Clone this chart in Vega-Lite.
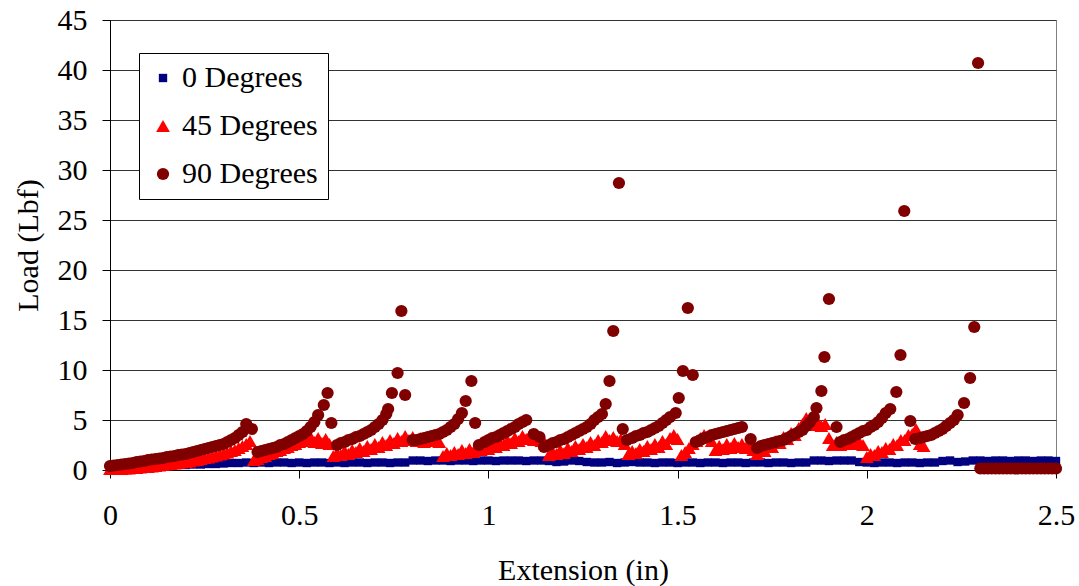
{
"$schema": "https://vega.github.io/schema/vega-lite/v6.json",
"width": 946, "height": 450,
"autosize": {"type": "none"},
"padding": {"left": 110, "top": 20, "right": 23, "bottom": 116},
"background": "white",
"view": {"stroke": "#808080", "strokeWidth": 1},
"data": {"values": [
{"s":"0","x":0,"y":0.3},{"s":"0","x":0.02,"y":0.3},{"s":"0","x":0.04,"y":0.3},{"s":"0","x":0.06,"y":0.35},{"s":"0","x":0.08,"y":0.35},{"s":"0","x":0.1,"y":0.4},{"s":"0","x":0.12,"y":0.4},{"s":"0","x":0.14,"y":0.45},{"s":"0","x":0.16,"y":0.45},{"s":"0","x":0.18,"y":0.5},{"s":"0","x":0.2,"y":0.5},{"s":"0","x":0.22,"y":0.55},{"s":"0","x":0.24,"y":0.55},{"s":"0","x":0.26,"y":0.6},{"s":"0","x":0.28,"y":0.6},{"s":"0","x":0.3,"y":0.65},{"s":"0","x":0.32,"y":0.7},{"s":"0","x":0.34,"y":0.7},{"s":"0","x":0.36,"y":0.75},{"s":"0","x":0.38,"y":0.7},{"s":"0","x":0.4,"y":0.75},{"s":"0","x":0.42,"y":0.7},{"s":"0","x":0.44,"y":0.75},{"s":"0","x":0.46,"y":0.75},{"s":"0","x":0.48,"y":0.7},{"s":"0","x":0.5,"y":0.75},{"s":"0","x":0.52,"y":0.7},{"s":"0","x":0.54,"y":0.75},{"s":"0","x":0.56,"y":0.75},{"s":"0","x":0.58,"y":0.7},{"s":"0","x":0.6,"y":0.75},{"s":"0","x":0.62,"y":0.7},{"s":"0","x":0.64,"y":0.75},{"s":"0","x":0.66,"y":0.75},{"s":"0","x":0.68,"y":0.7},{"s":"0","x":0.7,"y":0.75},{"s":"0","x":0.72,"y":0.75},{"s":"0","x":0.74,"y":0.7},{"s":"0","x":0.76,"y":0.75},{"s":"0","x":0.78,"y":0.75},{"s":"0","x":0.8,"y":0.95},{"s":"0","x":0.82,"y":0.95},{"s":"0","x":0.84,"y":0.9},{"s":"0","x":0.86,"y":0.95},{"s":"0","x":0.88,"y":0.95},{"s":"0","x":0.9,"y":0.9},{"s":"0","x":0.92,"y":0.95},{"s":"0","x":0.94,"y":0.95},{"s":"0","x":0.96,"y":0.9},{"s":"0","x":0.98,"y":0.95},{"s":"0","x":1,"y":0.95},{"s":"0","x":1.02,"y":0.9},{"s":"0","x":1.04,"y":0.95},{"s":"0","x":1.06,"y":0.95},{"s":"0","x":1.08,"y":0.95},{"s":"0","x":1.1,"y":0.9},{"s":"0","x":1.12,"y":0.95},{"s":"0","x":1.14,"y":0.95},{"s":"0","x":1.16,"y":0.9},{"s":"0","x":1.18,"y":0.8},{"s":"0","x":1.2,"y":0.85},{"s":"0","x":1.22,"y":0.95},{"s":"0","x":1.24,"y":0.9},{"s":"0","x":1.26,"y":0.8},{"s":"0","x":1.28,"y":0.75},{"s":"0","x":1.3,"y":0.75},{"s":"0","x":1.32,"y":0.8},{"s":"0","x":1.34,"y":0.7},{"s":"0","x":1.36,"y":0.75},{"s":"0","x":1.38,"y":0.8},{"s":"0","x":1.4,"y":0.75},{"s":"0","x":1.42,"y":0.75},{"s":"0","x":1.44,"y":0.7},{"s":"0","x":1.46,"y":0.75},{"s":"0","x":1.48,"y":0.75},{"s":"0","x":1.5,"y":0.7},{"s":"0","x":1.52,"y":0.75},{"s":"0","x":1.54,"y":0.75},{"s":"0","x":1.56,"y":0.7},{"s":"0","x":1.58,"y":0.75},{"s":"0","x":1.6,"y":0.75},{"s":"0","x":1.62,"y":0.7},{"s":"0","x":1.64,"y":0.75},{"s":"0","x":1.66,"y":0.75},{"s":"0","x":1.68,"y":0.7},{"s":"0","x":1.7,"y":0.75},{"s":"0","x":1.72,"y":0.75},{"s":"0","x":1.74,"y":0.7},{"s":"0","x":1.76,"y":0.75},{"s":"0","x":1.78,"y":0.75},{"s":"0","x":1.8,"y":0.7},{"s":"0","x":1.82,"y":0.75},{"s":"0","x":1.84,"y":0.75},{"s":"0","x":1.86,"y":0.95},{"s":"0","x":1.88,"y":0.95},{"s":"0","x":1.9,"y":0.9},{"s":"0","x":1.92,"y":0.95},{"s":"0","x":1.94,"y":0.95},{"s":"0","x":1.96,"y":0.95},{"s":"0","x":1.98,"y":0.8},{"s":"0","x":2,"y":0.75},{"s":"0","x":2.02,"y":0.7},{"s":"0","x":2.04,"y":0.75},{"s":"0","x":2.06,"y":0.75},{"s":"0","x":2.08,"y":0.7},{"s":"0","x":2.1,"y":0.75},{"s":"0","x":2.12,"y":0.75},{"s":"0","x":2.14,"y":0.7},{"s":"0","x":2.16,"y":0.75},{"s":"0","x":2.18,"y":0.75},{"s":"0","x":2.2,"y":0.9},{"s":"0","x":2.22,"y":0.95},{"s":"0","x":2.24,"y":0.8},{"s":"0","x":2.26,"y":0.85},{"s":"0","x":2.28,"y":0.95},{"s":"0","x":2.3,"y":0.95},{"s":"0","x":2.32,"y":0.9},{"s":"0","x":2.34,"y":0.95},{"s":"0","x":2.36,"y":0.95},{"s":"0","x":2.38,"y":0.9},{"s":"0","x":2.4,"y":0.95},{"s":"0","x":2.42,"y":0.95},{"s":"0","x":2.44,"y":0.9},{"s":"0","x":2.46,"y":0.95},{"s":"0","x":2.48,"y":0.95},{"s":"0","x":2.5,"y":0.9},
{"s":"45","x":0,"y":0.1},{"s":"45","x":0.01,"y":0.1},{"s":"45","x":0.02,"y":0.1},{"s":"45","x":0.03,"y":0.1},{"s":"45","x":0.04,"y":0.15},{"s":"45","x":0.05,"y":0.15},{"s":"45","x":0.06,"y":0.2},{"s":"45","x":0.07,"y":0.2},{"s":"45","x":0.08,"y":0.25},{"s":"45","x":0.09,"y":0.3},{"s":"45","x":0.1,"y":0.3},{"s":"45","x":0.11,"y":0.35},{"s":"45","x":0.12,"y":0.4},{"s":"45","x":0.13,"y":0.45},{"s":"45","x":0.14,"y":0.5},{"s":"45","x":0.15,"y":0.55},{"s":"45","x":0.16,"y":0.6},{"s":"45","x":0.17,"y":0.65},{"s":"45","x":0.18,"y":0.7},{"s":"45","x":0.19,"y":0.75},{"s":"45","x":0.2,"y":0.8},{"s":"45","x":0.21,"y":0.85},{"s":"45","x":0.22,"y":0.95},{"s":"45","x":0.23,"y":1.0},{"s":"45","x":0.24,"y":1.1},{"s":"45","x":0.25,"y":1.2},{"s":"45","x":0.26,"y":1.25},{"s":"45","x":0.27,"y":1.35},{"s":"45","x":0.28,"y":1.45},{"s":"45","x":0.29,"y":1.55},{"s":"45","x":0.3,"y":1.65},{"s":"45","x":0.31,"y":1.75},{"s":"45","x":0.32,"y":1.9},{"s":"45","x":0.33,"y":2.0},{"s":"45","x":0.34,"y":2.2},{"s":"45","x":0.35,"y":2.4},{"s":"45","x":0.36,"y":2.6},{"s":"45","x":0.37,"y":2.9},{"s":"45","x":0.38,"y":1.0},{"s":"45","x":0.39,"y":1.1},{"s":"45","x":0.4,"y":1.3},{"s":"45","x":0.41,"y":1.4},{"s":"45","x":0.42,"y":1.6},{"s":"45","x":0.43,"y":1.7},{"s":"45","x":0.44,"y":1.9},{"s":"45","x":0.45,"y":2.0},{"s":"45","x":0.46,"y":2.2},{"s":"45","x":0.47,"y":2.3},{"s":"45","x":0.48,"y":2.5},{"s":"45","x":0.49,"y":2.6},{"s":"45","x":0.5,"y":2.8},{"s":"45","x":0.51,"y":2.9},{"s":"45","x":0.52,"y":3.1},{"s":"45","x":0.53,"y":3.3},{"s":"45","x":0.54,"y":2.8},{"s":"45","x":0.55,"y":3.2},{"s":"45","x":0.56,"y":2.7},{"s":"45","x":0.57,"y":3.1},{"s":"45","x":0.58,"y":2.6},{"s":"45","x":0.59,"y":1.4},{"s":"45","x":0.6,"y":1.7},{"s":"45","x":0.61,"y":1.5},{"s":"45","x":0.62,"y":1.9},{"s":"45","x":0.63,"y":1.6},{"s":"45","x":0.64,"y":2.0},{"s":"45","x":0.65,"y":1.8},{"s":"45","x":0.66,"y":2.2},{"s":"45","x":0.67,"y":1.9},{"s":"45","x":0.68,"y":2.4},{"s":"45","x":0.69,"y":2.1},{"s":"45","x":0.7,"y":2.6},{"s":"45","x":0.71,"y":2.3},{"s":"45","x":0.72,"y":2.8},{"s":"45","x":0.73,"y":2.5},{"s":"45","x":0.74,"y":3.0},{"s":"45","x":0.75,"y":2.7},{"s":"45","x":0.76,"y":3.2},{"s":"45","x":0.77,"y":2.9},{"s":"45","x":0.78,"y":3.4},{"s":"45","x":0.79,"y":3.0},{"s":"45","x":0.8,"y":3.3},{"s":"45","x":0.81,"y":2.9},{"s":"45","x":0.82,"y":3.2},{"s":"45","x":0.83,"y":2.8},{"s":"45","x":0.84,"y":3.3},{"s":"45","x":0.85,"y":2.9},{"s":"45","x":0.86,"y":3.1},{"s":"45","x":0.87,"y":2.8},{"s":"45","x":0.88,"y":1.4},{"s":"45","x":0.89,"y":1.7},{"s":"45","x":0.9,"y":1.5},{"s":"45","x":0.91,"y":1.8},{"s":"45","x":0.92,"y":1.6},{"s":"45","x":0.93,"y":2.0},{"s":"45","x":0.94,"y":1.7},{"s":"45","x":0.95,"y":2.1},{"s":"45","x":0.96,"y":1.8},{"s":"45","x":0.97,"y":2.2},{"s":"45","x":0.98,"y":2.0},{"s":"45","x":0.99,"y":2.4},{"s":"45","x":1.0,"y":2.1},{"s":"45","x":1.01,"y":2.6},{"s":"45","x":1.02,"y":2.3},{"s":"45","x":1.03,"y":2.8},{"s":"45","x":1.04,"y":2.5},{"s":"45","x":1.05,"y":3.0},{"s":"45","x":1.06,"y":2.7},{"s":"45","x":1.07,"y":3.2},{"s":"45","x":1.08,"y":2.9},{"s":"45","x":1.09,"y":3.4},{"s":"45","x":1.1,"y":3.1},{"s":"45","x":1.11,"y":3.5},{"s":"45","x":1.12,"y":3.0},{"s":"45","x":1.13,"y":3.3},{"s":"45","x":1.14,"y":2.9},{"s":"45","x":1.15,"y":2.6},{"s":"45","x":1.16,"y":1.5},{"s":"45","x":1.17,"y":1.8},{"s":"45","x":1.18,"y":1.6},{"s":"45","x":1.19,"y":2.0},{"s":"45","x":1.2,"y":1.7},{"s":"45","x":1.21,"y":2.2},{"s":"45","x":1.22,"y":1.9},{"s":"45","x":1.23,"y":2.4},{"s":"45","x":1.24,"y":2.1},{"s":"45","x":1.25,"y":2.6},{"s":"45","x":1.26,"y":2.3},{"s":"45","x":1.27,"y":2.8},{"s":"45","x":1.28,"y":2.5},{"s":"45","x":1.29,"y":3.0},{"s":"45","x":1.3,"y":2.8},{"s":"45","x":1.31,"y":3.4},{"s":"45","x":1.32,"y":3.0},{"s":"45","x":1.33,"y":3.3},{"s":"45","x":1.34,"y":2.9},{"s":"45","x":1.35,"y":3.1},{"s":"45","x":1.36,"y":2.6},{"s":"45","x":1.37,"y":1.6},{"s":"45","x":1.38,"y":1.9},{"s":"45","x":1.39,"y":1.7},{"s":"45","x":1.4,"y":2.1},{"s":"45","x":1.41,"y":1.9},{"s":"45","x":1.42,"y":2.4},{"s":"45","x":1.43,"y":2.1},{"s":"45","x":1.44,"y":2.6},{"s":"45","x":1.45,"y":2.3},{"s":"45","x":1.46,"y":2.9},{"s":"45","x":1.47,"y":2.6},{"s":"45","x":1.48,"y":3.2},{"s":"45","x":1.49,"y":3.5},{"s":"45","x":1.5,"y":3.1},{"s":"45","x":1.51,"y":1.5},{"s":"45","x":1.52,"y":1.8},{"s":"45","x":1.53,"y":2.2},{"s":"45","x":1.54,"y":2.6},{"s":"45","x":1.55,"y":2.9},{"s":"45","x":1.56,"y":3.2},{"s":"45","x":1.57,"y":3.5},{"s":"45","x":1.58,"y":3.3},{"s":"45","x":1.59,"y":2.9},{"s":"45","x":1.6,"y":2.0},{"s":"45","x":1.61,"y":2.4},{"s":"45","x":1.62,"y":2.1},{"s":"45","x":1.63,"y":2.6},{"s":"45","x":1.64,"y":2.2},{"s":"45","x":1.65,"y":2.7},{"s":"45","x":1.66,"y":2.3},{"s":"45","x":1.67,"y":2.6},{"s":"45","x":1.68,"y":2.2},{"s":"45","x":1.69,"y":2.4},{"s":"45","x":1.7,"y":2.0},{"s":"45","x":1.71,"y":1.6},{"s":"45","x":1.72,"y":2.1},{"s":"45","x":1.73,"y":1.9},{"s":"45","x":1.74,"y":2.5},{"s":"45","x":1.75,"y":2.3},{"s":"45","x":1.76,"y":2.9},{"s":"45","x":1.77,"y":2.7},{"s":"45","x":1.78,"y":3.3},{"s":"45","x":1.79,"y":3.1},{"s":"45","x":1.8,"y":3.7},{"s":"45","x":1.81,"y":3.5},{"s":"45","x":1.82,"y":4.2},{"s":"45","x":1.83,"y":4.6},{"s":"45","x":1.84,"y":5.2},{"s":"45","x":1.85,"y":4.8},{"s":"45","x":1.86,"y":4.5},{"s":"45","x":1.87,"y":4.8},{"s":"45","x":1.88,"y":4.4},{"s":"45","x":1.89,"y":4.6},{"s":"45","x":1.9,"y":3.2},{"s":"45","x":1.91,"y":2.5},{"s":"45","x":1.92,"y":2.8},{"s":"45","x":1.93,"y":2.5},{"s":"45","x":1.94,"y":2.9},{"s":"45","x":1.95,"y":2.6},{"s":"45","x":1.96,"y":2.9},{"s":"45","x":1.97,"y":2.6},{"s":"45","x":1.98,"y":2.8},{"s":"45","x":1.99,"y":2.5},{"s":"45","x":2.0,"y":1.3},{"s":"45","x":2.01,"y":1.6},{"s":"45","x":2.02,"y":1.5},{"s":"45","x":2.03,"y":1.9},{"s":"45","x":2.04,"y":1.8},{"s":"45","x":2.05,"y":2.2},{"s":"45","x":2.06,"y":2.1},{"s":"45","x":2.07,"y":2.6},{"s":"45","x":2.08,"y":2.5},{"s":"45","x":2.09,"y":3.0},{"s":"45","x":2.1,"y":3.0},{"s":"45","x":2.11,"y":3.5},{"s":"45","x":2.12,"y":3.6},{"s":"45","x":2.13,"y":4.1},{"s":"45","x":2.14,"y":2.6},{"s":"45","x":2.15,"y":2.4},
{"s":"90","x":0,"y":0.4},{"s":"90","x":0.01,"y":0.45},{"s":"90","x":0.02,"y":0.5},{"s":"90","x":0.03,"y":0.55},{"s":"90","x":0.04,"y":0.6},{"s":"90","x":0.05,"y":0.65},{"s":"90","x":0.06,"y":0.7},{"s":"90","x":0.07,"y":0.8},{"s":"90","x":0.08,"y":0.85},{"s":"90","x":0.09,"y":0.9},{"s":"90","x":0.1,"y":1.0},{"s":"90","x":0.11,"y":1.05},{"s":"90","x":0.12,"y":1.1},{"s":"90","x":0.13,"y":1.15},{"s":"90","x":0.14,"y":1.2},{"s":"90","x":0.15,"y":1.3},{"s":"90","x":0.16,"y":1.35},{"s":"90","x":0.17,"y":1.4},{"s":"90","x":0.18,"y":1.5},{"s":"90","x":0.19,"y":1.55},{"s":"90","x":0.2,"y":1.6},{"s":"90","x":0.21,"y":1.7},{"s":"90","x":0.22,"y":1.8},{"s":"90","x":0.23,"y":1.9},{"s":"90","x":0.24,"y":2.0},{"s":"90","x":0.25,"y":2.1},{"s":"90","x":0.26,"y":2.2},{"s":"90","x":0.27,"y":2.3},{"s":"90","x":0.28,"y":2.4},{"s":"90","x":0.29,"y":2.5},{"s":"90","x":0.3,"y":2.6},{"s":"90","x":0.31,"y":2.8},{"s":"90","x":0.32,"y":3.0},{"s":"90","x":0.33,"y":3.2},{"s":"90","x":0.34,"y":3.5},{"s":"90","x":0.35,"y":3.8},{"s":"90","x":0.36,"y":4.6},{"s":"90","x":0.375,"y":4.1},
{"s":"90","x":0.39,"y":1.8},{"s":"90","x":0.4,"y":1.9},{"s":"90","x":0.41,"y":2.0},{"s":"90","x":0.42,"y":2.1},{"s":"90","x":0.43,"y":2.2},{"s":"90","x":0.44,"y":2.3},{"s":"90","x":0.45,"y":2.5},{"s":"90","x":0.46,"y":2.6},{"s":"90","x":0.47,"y":2.8},{"s":"90","x":0.48,"y":3.0},{"s":"90","x":0.49,"y":3.2},{"s":"90","x":0.5,"y":3.4},{"s":"90","x":0.51,"y":3.6},{"s":"90","x":0.52,"y":3.9},{"s":"90","x":0.53,"y":4.3},{"s":"90","x":0.54,"y":4.8},{"s":"90","x":0.55,"y":5.5},{"s":"90","x":0.565,"y":6.5},{"s":"90","x":0.575,"y":7.7},{"s":"90","x":0.585,"y":4.7},
{"s":"90","x":0.6,"y":2.5},{"s":"90","x":0.61,"y":2.7},{"s":"90","x":0.62,"y":2.8},{"s":"90","x":0.63,"y":3.0},{"s":"90","x":0.64,"y":3.1},{"s":"90","x":0.65,"y":3.3},{"s":"90","x":0.66,"y":3.4},{"s":"90","x":0.67,"y":3.6},{"s":"90","x":0.68,"y":3.8},{"s":"90","x":0.69,"y":4.0},{"s":"90","x":0.7,"y":4.3},{"s":"90","x":0.71,"y":4.6},{"s":"90","x":0.72,"y":5.0},{"s":"90","x":0.73,"y":5.6},{"s":"90","x":0.735,"y":6.1},{"s":"90","x":0.745,"y":7.7},{"s":"90","x":0.76,"y":9.7},{"s":"90","x":0.77,"y":15.9},{"s":"90","x":0.78,"y":7.5},
{"s":"90","x":0.8,"y":3.0},{"s":"90","x":0.81,"y":3.0},{"s":"90","x":0.82,"y":3.1},{"s":"90","x":0.83,"y":3.2},{"s":"90","x":0.84,"y":3.3},{"s":"90","x":0.85,"y":3.4},{"s":"90","x":0.86,"y":3.5},{"s":"90","x":0.87,"y":3.6},{"s":"90","x":0.88,"y":3.8},{"s":"90","x":0.89,"y":4.0},{"s":"90","x":0.9,"y":4.3},{"s":"90","x":0.91,"y":4.6},{"s":"90","x":0.92,"y":5.1},{"s":"90","x":0.93,"y":5.7},{"s":"90","x":0.94,"y":6.9},{"s":"90","x":0.955,"y":8.9},{"s":"90","x":0.965,"y":4.7},
{"s":"90","x":0.975,"y":2.5},{"s":"90","x":0.99,"y":2.8},{"s":"90","x":1.0,"y":3.0},{"s":"90","x":1.01,"y":3.2},{"s":"90","x":1.02,"y":3.3},{"s":"90","x":1.03,"y":3.5},{"s":"90","x":1.04,"y":3.7},{"s":"90","x":1.05,"y":3.9},{"s":"90","x":1.06,"y":4.1},{"s":"90","x":1.07,"y":4.3},{"s":"90","x":1.08,"y":4.6},{"s":"90","x":1.09,"y":4.8},{"s":"90","x":1.1,"y":5.0},{"s":"90","x":1.12,"y":3.6},{"s":"90","x":1.135,"y":3.3},{"s":"90","x":1.147,"y":2.3},
{"s":"90","x":1.16,"y":2.5},{"s":"90","x":1.17,"y":2.7},{"s":"90","x":1.18,"y":2.8},{"s":"90","x":1.19,"y":3.0},{"s":"90","x":1.2,"y":3.1},{"s":"90","x":1.21,"y":3.3},{"s":"90","x":1.22,"y":3.5},{"s":"90","x":1.23,"y":3.7},{"s":"90","x":1.24,"y":3.9},{"s":"90","x":1.25,"y":4.1},{"s":"90","x":1.26,"y":4.3},{"s":"90","x":1.27,"y":4.6},{"s":"90","x":1.28,"y":5.0},{"s":"90","x":1.29,"y":5.3},{"s":"90","x":1.3,"y":5.6},{"s":"90","x":1.31,"y":6.6},{"s":"90","x":1.32,"y":8.9},{"s":"90","x":1.33,"y":13.9},{"s":"90","x":1.345,"y":28.7},{"s":"90","x":1.355,"y":4.1},
{"s":"90","x":1.366,"y":3.0},{"s":"90","x":1.38,"y":3.2},{"s":"90","x":1.39,"y":3.4},{"s":"90","x":1.4,"y":3.5},{"s":"90","x":1.41,"y":3.7},{"s":"90","x":1.42,"y":3.8},{"s":"90","x":1.43,"y":4.0},{"s":"90","x":1.44,"y":4.2},{"s":"90","x":1.45,"y":4.4},{"s":"90","x":1.46,"y":4.7},{"s":"90","x":1.47,"y":5.0},{"s":"90","x":1.48,"y":5.3},{"s":"90","x":1.495,"y":5.7},{"s":"90","x":1.503,"y":7.2},{"s":"90","x":1.514,"y":9.9},{"s":"90","x":1.527,"y":16.2},{"s":"90","x":1.54,"y":9.5},
{"s":"90","x":1.548,"y":2.8},{"s":"90","x":1.56,"y":3.0},{"s":"90","x":1.57,"y":3.2},{"s":"90","x":1.58,"y":3.3},{"s":"90","x":1.59,"y":3.5},{"s":"90","x":1.6,"y":3.6},{"s":"90","x":1.61,"y":3.7},{"s":"90","x":1.62,"y":3.8},{"s":"90","x":1.63,"y":3.9},{"s":"90","x":1.64,"y":4.0},{"s":"90","x":1.65,"y":4.1},{"s":"90","x":1.66,"y":4.2},{"s":"90","x":1.67,"y":4.3},{"s":"90","x":1.693,"y":3.1},{"s":"90","x":1.71,"y":2.2},
{"s":"90","x":1.72,"y":2.4},{"s":"90","x":1.73,"y":2.5},{"s":"90","x":1.74,"y":2.6},{"s":"90","x":1.75,"y":2.7},{"s":"90","x":1.76,"y":2.8},{"s":"90","x":1.77,"y":2.9},{"s":"90","x":1.78,"y":3.0},{"s":"90","x":1.79,"y":3.2},{"s":"90","x":1.8,"y":3.4},{"s":"90","x":1.81,"y":3.6},{"s":"90","x":1.82,"y":3.8},{"s":"90","x":1.83,"y":4.0},{"s":"90","x":1.84,"y":4.4},{"s":"90","x":1.85,"y":4.8},{"s":"90","x":1.86,"y":5.3},{"s":"90","x":1.867,"y":6.2},{"s":"90","x":1.88,"y":7.9},{"s":"90","x":1.888,"y":11.3},{"s":"90","x":1.9,"y":17.1},{"s":"90","x":1.92,"y":4.3},
{"s":"90","x":1.93,"y":2.8},{"s":"90","x":1.94,"y":3.0},{"s":"90","x":1.95,"y":3.1},{"s":"90","x":1.96,"y":3.3},{"s":"90","x":1.97,"y":3.5},{"s":"90","x":1.98,"y":3.7},{"s":"90","x":1.99,"y":3.9},{"s":"90","x":2.0,"y":4.0},{"s":"90","x":2.01,"y":4.3},{"s":"90","x":2.02,"y":4.5},{"s":"90","x":2.03,"y":4.8},{"s":"90","x":2.04,"y":5.2},{"s":"90","x":2.05,"y":5.7},{"s":"90","x":2.062,"y":6.1},{"s":"90","x":2.078,"y":7.8},{"s":"90","x":2.089,"y":11.5},{"s":"90","x":2.099,"y":25.9},{"s":"90","x":2.115,"y":4.9},
{"s":"90","x":2.128,"y":3.1},{"s":"90","x":2.14,"y":3.2},{"s":"90","x":2.15,"y":3.3},{"s":"90","x":2.16,"y":3.4},{"s":"90","x":2.17,"y":3.5},{"s":"90","x":2.18,"y":3.7},{"s":"90","x":2.19,"y":3.9},{"s":"90","x":2.2,"y":4.1},{"s":"90","x":2.21,"y":4.4},{"s":"90","x":2.22,"y":4.7},{"s":"90","x":2.23,"y":5.0},{"s":"90","x":2.24,"y":5.5},{"s":"90","x":2.257,"y":6.7},{"s":"90","x":2.273,"y":9.2},{"s":"90","x":2.284,"y":14.3},{"s":"90","x":2.294,"y":40.7},
{"s":"90","x":2.3,"y":0.15},{"s":"90","x":2.31,"y":0.15},{"s":"90","x":2.32,"y":0.15},{"s":"90","x":2.33,"y":0.15},{"s":"90","x":2.34,"y":0.15},{"s":"90","x":2.35,"y":0.15},{"s":"90","x":2.36,"y":0.15},{"s":"90","x":2.37,"y":0.15},{"s":"90","x":2.38,"y":0.15},{"s":"90","x":2.39,"y":0.15},{"s":"90","x":2.4,"y":0.15},{"s":"90","x":2.41,"y":0.15},{"s":"90","x":2.42,"y":0.15},{"s":"90","x":2.43,"y":0.15},{"s":"90","x":2.44,"y":0.15},{"s":"90","x":2.45,"y":0.15},{"s":"90","x":2.46,"y":0.15},{"s":"90","x":2.47,"y":0.15},{"s":"90","x":2.48,"y":0.15},{"s":"90","x":2.49,"y":0.15},{"s":"90","x":2.5,"y":0.15}
]},
"mark": {"type": "point", "filled": true, "opacity": 1, "strokeWidth": 0},
"encoding": {
 "x": {"field": "x", "type": "quantitative",
  "scale": {"domain": [0, 2.5], "nice": false, "zero": false},
  "axis": {"values": [0, 0.5, 1, 1.5, 2, 2.5], "format": "~g", "grid": false,
   "title": "Extension (in)", "titleY": 100, "titleBaseline": "middle", "labelPadding": 22}},
 "y": {"field": "y", "type": "quantitative",
  "scale": {"domain": [0, 45], "nice": false},
  "axis": {"values": [0, 5, 10, 15, 20, 25, 30, 35, 40, 45], "grid": true,
   "title": "Load (Lbf)", "titleX": -82, "titleY": 225, "titleAngle": 270, "titleBaseline": "middle", "titleAlign": "center", "labelPadding": 15}},
 "color": {"field": "s", "type": "nominal",
  "scale": {"domain": ["0", "45", "90"], "range": ["#000080", "#FF0000", "#800000"]},
  "legend": {"title": null, "orient": "none", "legendX": 29, "legendY": 33, "labelExpr": "datum.label + ' Degrees'"}},
 "shape": {"field": "s", "type": "nominal",
  "scale": {"domain": ["0", "45", "90"], "range": ["square", "triangle-up", "circle"]}},
 "size": {"field": "s", "type": "nominal",
  "scale": {"type": "ordinal", "domain": ["0", "45", "90"], "range": [70, 190, 150]}},
 "order": {"field": "s", "type": "nominal"}
},
"config": {
 "font": "Liberation Serif",
 "axis": {
  "labelFont": "Liberation Serif", "labelFontSize": 30, "labelColor": "#000000",
  "titleFont": "Liberation Serif", "titleFontSize": 30, "titleFontWeight": "normal", "titleColor": "#000000",
  "domainColor": "#000000", "domainWidth": 1, "tickColor": "#000000", "tickSize": 8, "tickWidth": 1,
  "gridColor": "#333333", "gridWidth": 1, "labelOverlap": false, "labelFlush": false
 },
 "legend": {
  "labelFont": "Liberation Serif", "labelFontSize": 30, "labelColor": "#000000",
  "strokeColor": "#000000", "fillColor": "#ffffff", "padding": 10,
  "rowPadding": 18, "symbolOffset": -1, "labelOffset": 4, "symbolStrokeWidth": 0
 }
}
}
